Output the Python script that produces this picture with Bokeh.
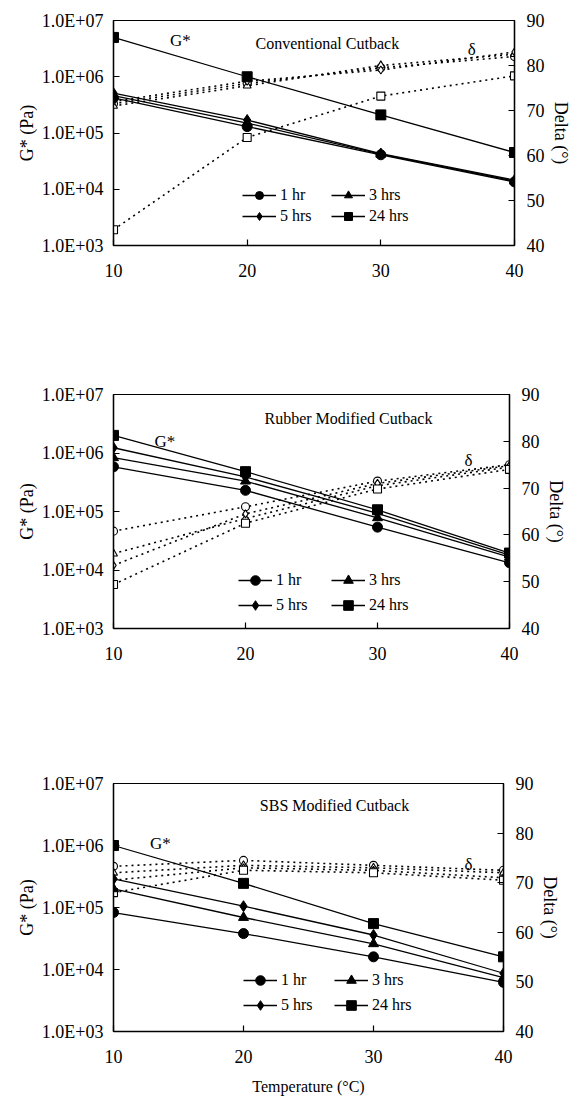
from bokeh.plotting import figure
from bokeh.models import Range1d, LinearAxis, LinearScale, FixedTicker, Legend, LegendItem, Label
from bokeh.layouts import column
from bokeh.embed import file_html
from bokeh.resources import INLINE

FONT = "Liberation Serif"

# ---------------- data ----------------
temps = [10, 20, 30, 40]
series = ["1 hr", "3 hrs", "5 hrs", "24 hrs"]
markers = ["circle", "triangle", "diamond", "square"]

g_ticks = [1e3, 1e4, 1e5, 1e6, 1e7]
g_tick_labels = ["1.0E+03", "1.0E+04", "1.0E+05", "1.0E+06", "1.0E+07"]
delta_ticks = [40, 50, 60, 70, 80, 90]
temp_ticks = [10, 20, 30, 40]

# Conventional Cutback
conv_g_1hr = [4.2e5, 1.3e5, 4.1e4, 1.35e4]
conv_g_3hrs = [4.6e5, 1.5e5, 4.2e4, 1.4e4]
conv_g_5hrs = [5.1e5, 1.7e5, 4.3e4, 1.45e4]
conv_g_24hrs = [5.0e6, 1.0e6, 2.1e5, 4.5e4]
conv_d_1hr = [71.5, 76.0, 79.5, 82.0]
conv_d_3hrs = [71.0, 75.5, 80.0, 82.5]
conv_d_5hrs = [72.0, 76.5, 79.0, 83.0]
conv_d_24hrs = [43.5, 64.0, 73.2, 77.7]

# Rubber Modified Cutback
rub_g_1hr = [5.8e5, 2.3e5, 5.4e4, 1.33e4]
rub_g_3hrs = [8.3e5, 3.3e5, 7.8e4, 1.66e4]
rub_g_5hrs = [1.23e6, 3.9e5, 9.3e4, 1.8e4]
rub_g_24hrs = [2.0e6, 4.8e5, 1.07e5, 1.95e4]
rub_d_1hr = [60.8, 66.0, 71.5, 75.0]
rub_d_3hrs = [56.0, 63.5, 70.5, 74.5]
rub_d_5hrs = [53.5, 64.5, 71.0, 74.8]
rub_d_24hrs = [49.4, 62.5, 69.8, 74.0]

# SBS Modified Cutback
sbs_g_1hr = [8.3e4, 3.8e4, 1.6e4, 6.2e3]
sbs_g_3hrs = [2.0e5, 6.9e4, 2.6e4, 7.4e3]
sbs_g_5hrs = [2.9e5, 1.05e5, 3.6e4, 8.7e3]
sbs_g_24hrs = [1.0e6, 2.45e5, 5.5e4, 1.6e4]
sbs_d_1hr = [73.3, 74.5, 73.5, 72.5]
sbs_d_3hrs = [72.0, 73.5, 73.0, 72.0]
sbs_d_5hrs = [70.5, 73.0, 72.5, 71.0]
sbs_d_24hrs = [68.0, 72.5, 72.0, 70.5]


def make_panel(title, g_list, d_list, geom, notes, legend_geom, xlabel=None):
    width, height, bl, br, bt, bb = geom
    leg_loc, leg_gh, leg_lw = legend_geom
    p = figure(width=width, height=height,
               x_range=Range1d(10, 40), y_range=Range1d(1e3, 1e7),
               y_axis_type="log", output_backend="svg", toolbar_location=None,
               min_border_left=bl, min_border_right=br,
               min_border_top=bt, min_border_bottom=bb)
    p.extra_y_ranges = {"delta": Range1d(40, 90)}
    p.extra_y_scales = {"delta": LinearScale()}
    p.grid.visible = False
    p.outline_line_color = "black"
    p.outline_line_width = 1.2
    p.background_fill_color = "white"
    p.border_fill_color = "white"

    p.yaxis.ticker = FixedTicker(ticks=g_ticks)
    p.yaxis.major_label_overrides = {int(t): lab for t, lab in zip(g_ticks, g_tick_labels)}
    p.yaxis.axis_label = "G* (Pa)"
    p.xaxis.ticker = FixedTicker(ticks=temp_ticks)
    if xlabel:
        p.xaxis.axis_label = xlabel

    rax = LinearAxis(y_range_name="delta", ticker=FixedTicker(ticks=delta_ticks),
                     axis_label="Delta (°)")
    p.add_layout(rax, "right")

    for ax in [p.xaxis[0], p.yaxis[0], rax]:
        ax.axis_line_width = 1.4
        ax.axis_line_color = "black"
        ax.major_tick_in = 6
        ax.major_tick_out = 0
        ax.major_tick_line_color = "black"
        ax.major_tick_line_width = 1.2
        ax.minor_tick_line_color = None
        ax.major_label_text_font = FONT
        ax.major_label_text_font_size = "18px"
        ax.major_label_text_color = "black"
        ax.axis_label_text_font = FONT
        ax.axis_label_text_font_size = "18px"
        ax.axis_label_text_font_style = "normal"
        ax.axis_label_text_color = "black"
    p.xaxis.major_label_standoff = 18
    p.xaxis.axis_label_text_font_size = "16px"
    p.xaxis.axis_label_standoff = 12
    p.yaxis.major_label_standoff = 10
    p.yaxis.axis_label_standoff = 2
    rax.major_label_standoff = 12
    rax.axis_label_standoff = 3

    # delta (open markers, dotted lines)
    for d, m in zip(d_list, markers):
        p.line(temps, d, y_range_name="delta", line_color="black",
               line_width=1.6, line_dash="2 4")
        p.scatter(temps, d, y_range_name="delta", marker=m, size=8,
                  fill_color="white", line_color="black", line_width=1.1)

    items = {}
    for g, m, s in zip(g_list, markers, series):
        l = p.line(temps, g, line_color="black", line_width=1.3)
        sc = p.scatter(temps, g, marker=m, size=10 if m != "diamond" else 11,
                       fill_color="black", line_color="black")
        items[s] = LegendItem(label=s, renderers=[l, sc])

    legend = Legend(items=[items["1 hr"], items["5 hrs"], items["3 hrs"], items["24 hrs"]],
                    ncols=2, location=leg_loc,
                    border_line_alpha=0, background_fill_alpha=0,
                    label_text_font=FONT, label_text_font_size="16px",
                    label_text_color="black",
                    glyph_width=34, glyph_height=leg_gh, label_height=leg_gh,
                    label_width=leg_lw, spacing=1,
                    padding=0, margin=0, label_standoff=4)
    p.add_layout(legend)

    (gx, gy), (tx, ty), (dx, dy) = notes
    p.add_layout(Label(x=gx, y=gy, text="G*", text_font=FONT, text_font_size="17px",
                       text_color="black", text_align="center", text_baseline="middle"))
    p.add_layout(Label(x=tx, y=ty, text=title, text_font=FONT, text_font_size="16px",
                       text_color="black", text_align="center", text_baseline="middle"))
    p.add_layout(Label(x=dx, y=dy, y_range_name="delta", text="δ", text_font=FONT,
                       text_font_size="17px", text_color="black",
                       text_align="center", text_baseline="middle"))
    return p


p1 = make_panel("Conventional Cutback",
                [conv_g_1hr, conv_g_3hrs, conv_g_5hrs, conv_g_24hrs],
                [conv_d_1hr, conv_d_3hrs, conv_d_5hrs, conv_d_24hrs],
                (573, 380, 113, 40, 20, 135),
                ((15.0, 4.4e6), (26.0, 3.9e6), (36.8, 83.5)),
                ((129, 19), 20, 50))
p2 = make_panel("Rubber Modified Cutback",
                [rub_g_1hr, rub_g_3hrs, rub_g_5hrs, rub_g_24hrs],
                [rub_d_1hr, rub_d_3hrs, rub_d_5hrs, rub_d_24hrs],
                (568, 380, 110, 40, 14, 132),
                ((13.9, 1.55e6), (27.8, 3.9e6), (36.9, 75.8)),
                ((125, 11), 24, 54))
p3 = make_panel("SBS Modified Cutback",
                [sbs_g_1hr, sbs_g_3hrs, sbs_g_5hrs, sbs_g_24hrs],
                [sbs_d_1hr, sbs_d_3hrs, sbs_d_5hrs, sbs_d_24hrs],
                (562, 345, 108, 40, 23, 74),
                ((13.6, 1.07e6), (27.0, 4.5e6), (37.3, 73.7)),
                ((130, 14), 24, 52), xlabel="Temperature (°C)")

layout = column(p1, p2, p3, spacing=0)
open("out.html", "w").write(file_html(layout, INLINE))
